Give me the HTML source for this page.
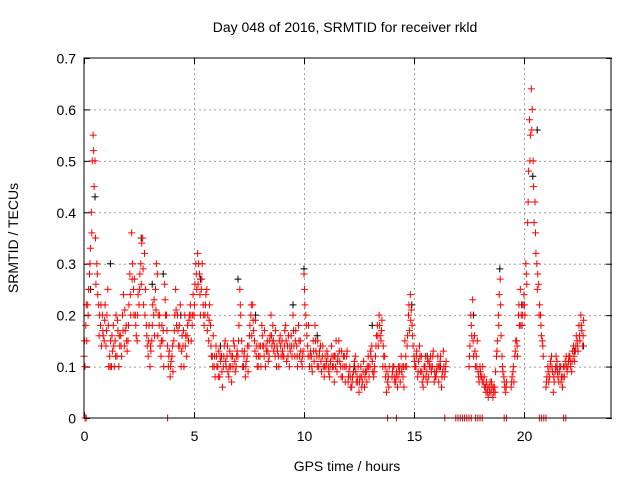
<!DOCTYPE html>
<html><head><meta charset="utf-8"><style>
body{margin:0;background:#fff}
svg text{font-family:"Liberation Sans",sans-serif;font-size:14px;fill:#000}
</style></head><body>
<svg id="chart" width="640" height="480" xmlns="http://www.w3.org/2000/svg">
<text x="345" y="32" text-anchor="middle">Day 048 of 2016, SRMTID for receiver rkld</text>
<text x="347" y="471" text-anchor="middle">GPS time / hours</text>
<text x="18" y="238" text-anchor="middle" transform="rotate(-90 18 238)">SRMTID / TECUs</text>
<g id="grid"></g><g id="axes"></g><g id="marks"></g>
<rect x="84" y="58" width="527" height="360" fill="none" stroke="#000" stroke-width="1"/>
</svg>
<script>
const xTicks=[0,5,10,15,20];
const yTicks=[0,0.1,0.2,0.3,0.4,0.5,0.6,0.7];
const yTickLabels=["0","0.1","0.2","0.3","0.4","0.5","0.6","0.7"];
const N=null;
const redA=[0.12,0.18,0.22,0.28,0.4,0.55,0.5,0.3,0.22,0.18,0.2,0.15,
0.14,0.25,0.12,0.1,0.18,0.15,0.12,0.1,0.16,0.2,0.14,0.18,
0.15,0.28,0.36,0.25,0.2,0.15,0.22,0.3,0.35,0.32,0.18,0.12,
0.1,0.15,0.2,0.25,0.28,0.18,0.12,0.15,0.26,0.2,0.1,0.08,
0.12,0.15,0.25,0.2,0.18,0.1,0.14,0.2,0.12,0.15,0.22,0.18,
0.2,0.3,0.32,0.28,0.25,0.22,0.2,0.25,0.15,0.18,0.12,0.1,
0.14,0.1,0.08,0.12,0.1,0.15,0.12,0.08,0.1,0.12,0.14,0.1,
0.12,0.25,0.15,0.1,0.08,0.12,0.14,0.2,0.22,0.15,0.12,0.1,
0.12,0.18,0.14,0.1,0.15,0.12,0.2,0.18,0.14,0.1,0.12,0.16,
0.15,0.12,0.18,0.14,0.1,0.16,0.2,0.12,0.14,0.18,0.15,0.1,
0.28,0.2,0.14,0.1,0.12,0.15,0.18,0.12,0.1,0.14,0.12,0.08,
0.1,0.12,0.08,0.14,0.1,0.12,0.09,0.15,0.1,0.08,0.12,0.1,
0.07,0.1,0.06,0.09,0.12,0.08,0.05,0.1,0.07,0.06,0.09,0.12,
0.1,0.14,0.08,0.12,0.18,0.2,0.15,0.1,0.12,0.05,0.08,N,
0.08,0.1,0.07,0.06,0.09,0.12,0.08,0.15,0.1,0.2,0.24,0.18,
0.12,0.1,0.08,0.14,0.12,0.06,0.1,0.09,0.08,0.12,0.1,0.07,
0.08,0.12,0.1,0.06,0.13,0.09,N,N,N,N,N,N,
N,N,N,N,N,N,0.1,0.2,0.23,0.16,0.12,0.09,
0.1,0.08,0.07,0.06,0.05,0.06,0.05,0.04,0.06,0.12,0.2,0.27,
0.12,0.08,0.05,N,N,0.06,0.09,0.12,0.15,0.2,0.25,0.18,
0.24,0.3,0.38,0.58,0.64,0.5,0.42,0.3,0.26,0.2,0.15,N,
0.06,0.1,0.08,0.12,0.05,0.09,0.11,0.07,0.1,0.06,0.08,0.12,
0.1,0.12,0.09,0.14,0.13,0.15,0.18,0.2,0.14,N,N,N];
const redB=[0.1,0.15,0.25,0.33,0.5,0.45,0.26,0.24,0.2,0.14,0.16,0.22,
0.2,0.1,0.15,0.13,0.1,0.2,0.17,0.14,0.12,0.24,0.17,0.13,
0.22,0.2,0.3,0.27,0.16,0.24,0.28,0.34,0.22,0.25,0.14,0.18,
0.13,0.22,0.16,0.3,0.2,0.14,0.18,0.1,0.2,0.14,0.13,0.11,
0.09,0.2,0.18,0.14,0.22,0.16,0.1,0.16,0.18,0.2,0.15,0.24,
0.26,0.25,0.3,0.2,0.3,0.18,0.24,0.2,0.22,0.12,0.16,0.08,
0.1,0.13,0.11,0.06,0.14,0.1,0.09,0.13,0.07,0.15,0.09,0.13,
0.18,0.2,0.1,0.13,0.11,0.09,0.18,0.16,0.17,0.19,0.1,0.14,
0.1,0.14,0.17,0.13,0.11,0.16,0.14,0.13,0.17,0.13,0.15,0.12,
0.12,0.17,0.11,0.16,0.13,0.12,0.14,0.17,0.1,0.12,0.11,0.13,
0.22,0.16,0.18,0.13,0.09,0.11,0.13,0.15,0.13,0.09,0.1,0.12,
0.13,0.09,0.11,0.1,0.07,0.15,0.12,0.11,0.13,0.12,0.07,0.13,
0.09,0.06,0.08,0.11,0.07,0.1,0.08,0.06,0.11,0.09,0.1,0.08,
0.12,0.09,0.1,0.16,0.14,0.16,0.19,0.12,0.08,0.07,0.1,N,
0.1,0.07,0.09,0.1,0.07,0.1,0.06,0.12,0.16,0.17,0.21,0.14,
0.1,0.13,0.11,0.09,0.07,0.1,0.08,0.11,0.1,0.09,0.13,0.08,
0.1,0.07,0.12,0.09,0.08,0.11,N,N,N,N,N,N,
N,N,N,N,N,N,0.14,0.16,0.12,0.1,0.15,0.07,
0.08,0.1,0.06,0.07,0.04,0.07,0.06,0.05,0.09,0.15,0.24,0.16,
0.09,0.06,0.07,N,N,0.08,0.07,0.15,0.12,0.18,0.2,0.22,
0.2,0.26,0.48,0.55,0.6,0.38,0.32,0.28,0.22,0.16,0.12,N,
0.08,0.07,0.11,0.09,0.07,0.12,0.08,0.1,0.08,0.1,0.11,0.09,
0.12,0.1,0.13,0.11,0.16,0.13,0.15,0.17,0.19,N,N,N];
const redC=[0.15,0.22,0.2,0.3,0.36,0.52,0.35,0.28,0.16,0.22,0.17,0.19,
0.17,0.18,0.1,0.16,0.14,0.12,0.19,0.16,0.14,0.17,0.21,0.15,
0.18,0.24,0.27,0.2,0.18,0.2,0.25,0.26,0.29,0.2,0.16,0.15,
0.14,0.18,0.23,0.21,0.16,0.2,0.15,0.17,0.23,0.17,0.12,0.1,
0.14,0.17,0.21,0.17,0.14,0.13,0.17,0.14,0.16,0.19,0.2,0.2,
0.22,0.28,0.26,0.24,0.27,0.2,0.22,0.17,0.19,0.14,0.1,0.12,
0.12,0.08,0.12,0.09,0.12,0.11,0.14,0.1,0.12,0.1,0.11,0.12,
0.15,0.22,0.13,0.12,0.1,0.14,0.16,0.22,0.19,0.13,0.14,0.12,
0.14,0.16,0.12,0.14,0.13,0.15,0.16,0.15,0.12,0.14,0.1,0.14,
0.13,0.14,0.15,0.12,0.14,0.14,0.17,0.15,0.12,0.15,0.13,0.12,
0.25,0.18,0.12,0.12,0.1,0.13,0.15,0.1,0.12,0.11,0.14,0.1,
0.11,0.1,0.1,0.12,0.12,0.1,0.11,0.13,0.08,0.1,0.1,0.12,
0.08,0.08,0.07,0.1,0.09,0.07,0.07,0.08,0.09,0.08,0.07,0.1,
0.13,0.11,0.09,0.14,0.16,0.18,0.17,0.14,0.1,0.09,0.06,N,
0.09,0.08,0.08,0.08,0.1,0.09,0.1,0.1,0.14,0.22,0.19,0.16,
0.11,0.12,0.09,0.12,0.09,0.08,0.12,0.07,0.11,0.1,0.12,0.09,
0.09,0.1,0.11,0.08,0.1,0.1,N,N,N,N,N,N,
N,N,N,N,N,N,0.12,0.18,0.15,0.13,0.1,0.08,
0.09,0.07,0.08,0.05,0.06,0.05,0.07,0.06,0.05,0.13,0.18,0.22,
0.1,0.07,0.06,N,N,0.07,0.1,0.13,0.14,0.22,0.18,0.2,
0.22,0.28,0.42,0.5,0.56,0.45,0.36,0.25,0.2,0.18,0.14,N,
0.07,0.09,0.1,0.1,0.08,0.1,0.09,0.09,0.07,0.08,0.1,0.1,
0.11,0.11,0.11,0.12,0.14,0.14,0.16,0.18,0.16,N,N,N];
const blackTimes=[0.3,0.5,1.2,2.6,3.1,3.6,4.4,5.3,6.2,7.0,7.8,8.6,9.5,10.0,10.6,11.4,12.3,13.1,14.9,15.6,16.2,17.7,18.9,19.9,20.4,20.6,21.5,22.3,22.7];
const blackValues=[0.25,0.43,0.3,0.35,0.26,0.28,0.2,0.27,0.14,0.27,0.2,0.15,0.22,0.29,0.16,0.12,0.1,0.18,0.22,0.12,0.1,0.2,0.29,0.22,0.47,0.56,0.1,0.13,0.14];
const zeroTimes=[0.05,0.1,3.8,13.8,14.2,16.4,16.9,17.0,17.1,17.2,17.3,17.4,17.5,17.6,17.8,17.9,18.0,18.1,19.1,19.2,20.7,20.8,20.9,21.0,21.8,21.9];
const X0=84,X1=612,Y0=418,Y1=58,XMAX=24,YMAX=0.7;
const xs=t=>X0+(X1-X0)*t/XMAX;
const ys=v=>Y0-(Y0-Y1)*v/YMAX;
const NS="http://www.w3.org/2000/svg";
const grid=document.getElementById('grid'),axes=document.getElementById('axes'),marks=document.getElementById('marks');
function line(g,x1,y1,x2,y2,st,dash){const l=document.createElementNS(NS,'line');l.setAttribute('x1',x1);l.setAttribute('y1',y1);l.setAttribute('x2',x2);l.setAttribute('y2',y2);l.setAttribute('stroke',st);if(dash)l.setAttribute('stroke-dasharray',dash);g.appendChild(l);return l;}
function txt(s,x,y,a){const t=document.createElementNS(NS,'text');t.setAttribute('x',x);t.setAttribute('y',y);t.setAttribute('text-anchor',a);t.textContent=s;axes.appendChild(t);return t;}
xTicks.forEach(v=>{const x=xs(v)+0.5;
 if(v>0){const g=line(grid,x,Y1,x,Y0,'#a0a0a0','2,3');}
 const t1=line(axes,x,Y0,x,Y0-6,'#000');
 line(axes,x,Y1,x,Y1+6,'#000');
 const lb=txt(String(v),x,Y0+23,'middle');});
yTicks.forEach((v,i)=>{const y=ys(v)+0.5;
 if(v>0&&v<YMAX){const g=line(grid,X0,y,X1,y,'#a0a0a0','2,3');}
 const t1=line(axes,X0,y,X0+6,y,'#000');
 line(axes,X1,y,X1-6,y,'#000');
 const lb=txt(yTickLabels[i],X0-8,y+5,'end');});
function plus(t,v,c,name){const x=xs(t),y=ys(v);const p=document.createElementNS(NS,'path');
 p.setAttribute('d',`M${x-3.5} ${y}H${x+3.5}M${x} ${y-3.5}V${y+3.5}`);p.setAttribute('stroke',c);p.setAttribute('stroke-width','1');
 
 
 marks.appendChild(p);}
blackTimes.forEach((t,i)=>plus(t,blackValues[i],'#000','black-point'));
redA.forEach((v,i)=>{if(v!==null)plus(i/12,v,'#ff0000','red-point');});
redB.forEach((v,i)=>{if(v!==null)plus(i/12+1/24,v,'#ff0000','red-point');});
redC.forEach((v,i)=>{if(v!==null)plus(i/12+1/48,v,'#ff0000','red-point');});
zeroTimes.forEach(t=>plus(t,0,'#ff0000','zero-point'));
</script>
</body></html>
